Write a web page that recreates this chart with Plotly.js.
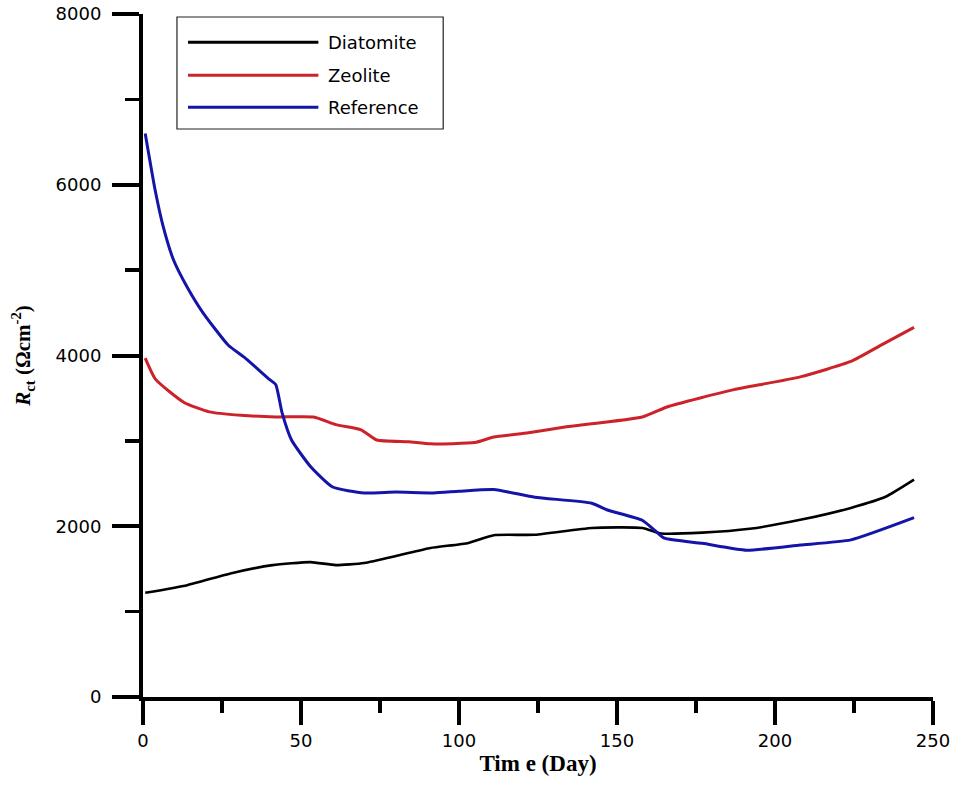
<!DOCTYPE html>
<html>
<head>
<meta charset="utf-8">
<script src="https://cdn.plot.ly/plotly-3.0.1.min.js"></script>
<style>
  html, body { margin: 0; padding: 0; background: #fff; }
  #chart { width: 957px; height: 785px; }
</style>
</head>
<body>
<div id="chart"></div>
<script>
// Charge-transfer resistance over time for three mortar mixes
const seriesNames = ['Diatomite', 'Zeolite', 'Reference'];
const seriesColors = ['#000000', '#cc2229', '#1414a8'];

const diatomiteDays = [0.7, 14, 28, 41, 53, 61, 70, 81, 91, 103, 111, 124, 142, 158, 164, 177, 192, 208, 224, 235, 244];
const diatomiteRct  = [1220, 1310, 1450, 1545, 1580, 1545, 1570, 1660, 1745, 1805, 1895, 1900, 1980, 1980, 1915, 1925, 1970, 2075, 2215, 2345, 2545];

const zeoliteDays = [0.7, 4, 13, 21, 31, 42, 54, 61, 69, 74, 84, 91, 105, 111, 122, 134, 158, 166, 176, 187, 208, 224, 234, 244];
const zeoliteRct  = [3970, 3720, 3450, 3340, 3300, 3280, 3280, 3190, 3130, 3010, 2990, 2965, 2980, 3045, 3095, 3165, 3280, 3400, 3500, 3600, 3750, 3930, 4130, 4330];

const referenceDays = [0.7, 3.8, 6.4, 9.6, 14, 19, 27, 32, 40, 42, 44, 47, 53, 60, 70, 80, 92, 100, 111, 124, 142, 147, 158, 162, 165, 177, 191, 208, 224, 244];
const referenceRct  = [6600, 5945, 5510, 5125, 4800, 4500, 4120, 3980, 3720, 3660, 3330, 3010, 2700, 2460, 2390, 2400, 2390, 2410, 2430, 2340, 2270, 2190, 2070, 1950, 1860, 1800, 1720, 1780, 1840, 2100];

const xTickVals = [0, 50, 100, 150, 200, 250];
const yTickVals = [0, 2000, 4000, 6000, 8000];

const xs = [diatomiteDays, zeoliteDays, referenceDays];
const ys = [diatomiteRct, zeoliteRct, referenceRct];
const widths = [2.6, 3, 3];

const traces = seriesNames.map((name, i) => ({
  type: 'scatter',
  mode: 'lines',
  name: name,
  x: xs[i],
  y: ys[i],
  line: { color: seriesColors[i], width: widths[i], shape: 'spline', smoothing: 0.5 },
  showlegend: false,
  hoverinfo: 'x+y+name'
}));

const tickFont = { family: 'DejaVu Sans, Arial, sans-serif', size: 18, color: '#000' };

// Boxed key in the upper-left corner with long line samples
const keyLeft = 0.043, keyRight = 0.380, keyTop = 0.9956, keyBottom = 0.8316;
const rowY = [0.9585, 0.9102, 0.8634];
const shapes = [{
  type: 'rect', xref: 'paper', yref: 'paper',
  x0: keyLeft, x1: keyRight, y0: keyBottom, y1: keyTop,
  line: { color: '#222', width: 1.2 }, fillcolor: 'rgba(0,0,0,0)'
}];
const annotations = [];
seriesNames.forEach((name, i) => {
  shapes.push({
    type: 'line', xref: 'paper', yref: 'paper',
    x0: 0.057, x1: 0.222, y0: rowY[i], y1: rowY[i],
    line: { color: seriesColors[i], width: 3 }
  });
  annotations.push({
    xref: 'paper', yref: 'paper', x: 0.232, y: rowY[i],
    xanchor: 'left', yanchor: 'middle', showarrow: false,
    text: name, font: { family: 'DejaVu Sans, Arial, sans-serif', size: 18, color: '#000' }
  });
});

const layout = {
  width: 957,
  height: 785,
  paper_bgcolor: '#fff',
  plot_bgcolor: '#fff',
  margin: { l: 143, r: 24, t: 14, b: 88 },
  showlegend: false,
  xaxis: {
    range: [0, 250],
    tickvals: xTickVals,
    ticktext: xTickVals.map(String),
    showgrid: false,
    zeroline: false,
    showline: true,
    linecolor: '#000',
    linewidth: 4,
    ticks: 'outside',
    ticklen: 24,
    tickwidth: 4,
    tickcolor: '#000',
    ticklabelstandoff: 0,
    minor: { dtick: 25, tick0: 0, ticks: 'outside', ticklen: 12, tickwidth: 3.5, tickcolor: '#000', showgrid: false },
    tickfont: tickFont,
    title: {
      text: 'Tim e (Day)',
      font: { family: 'Liberation Serif, Times New Roman, serif', size: 23, color: '#000', weight: 'bold' },
      standoff: 6
    }
  },
  yaxis: {
    range: [0, 8000],
    tickvals: yTickVals,
    ticktext: yTickVals.map(String),
    showgrid: false,
    zeroline: false,
    showline: true,
    linecolor: '#000',
    linewidth: 4,
    ticks: 'outside',
    ticklen: 27,
    tickwidth: 4,
    tickcolor: '#000',
    ticklabelstandoff: 7,
    minor: { dtick: 1000, tick0: 0, ticks: 'outside', ticklen: 14, tickwidth: 3.5, tickcolor: '#000', showgrid: false },
    tickfont: tickFont,
    title: {
      text: '<i>R</i><sub>ct</sub> (Ωcm<sup>-2</sup>)',
      font: { family: 'Liberation Serif, Times New Roman, serif', size: 21, color: '#000', weight: 'bold' },
      standoff: 20
    }
  },
  shapes: shapes,
  annotations: annotations
};

Plotly.newPlot('chart', traces, layout, { displayModeBar: false, staticPlot: true });
</script>
</body>
</html>
